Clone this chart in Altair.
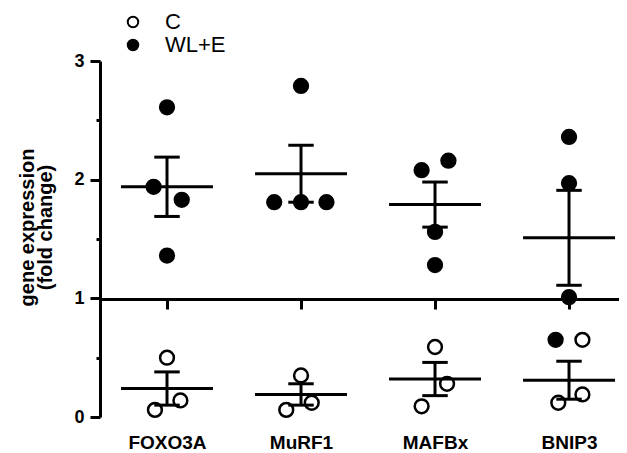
import altair as alt
import pandas as pd

categories = ["FOXO3A", "MuRF1", "MAFBx", "BNIP3"]
groups = ["C", "WL+E"]

# individual points (fold change) and horizontal jitter (category units)
c_values = [[0.50, 0.14, 0.06], [0.35, 0.06, 0.12], [0.59, 0.28, 0.09], [0.65, 0.19, 0.12]]
c_jitter = [[0.0, 0.10, -0.09], [0.0, -0.11, 0.08], [0.0, 0.09, -0.10], [0.10, 0.10, -0.08]]
w_values = [[2.61, 1.94, 1.83, 1.36], [2.79, 1.81, 1.81, 1.81], [2.08, 2.16, 1.56, 1.28], [2.36, 1.97, 1.01, 0.65]]
w_jitter = [[0.0, -0.10, 0.11, 0.0], [0.0, -0.20, 0.0, 0.19], [-0.10, 0.10, 0.0, 0.0], [0.0, 0.0, 0.0, -0.10]]

# mean and SEM per gene
c_mean = [0.24, 0.19, 0.32, 0.31]
c_sem = [0.14, 0.09, 0.14, 0.16]
w_mean = [1.94, 2.05, 1.79, 1.51]
w_sem = [0.25, 0.24, 0.19, 0.40]

y_major = [0, 1, 2, 3]
y_minor = [0.5, 1.5, 2.5]
x_ticks = [1, 2, 3, 4]

HALF = 0.343   # half-width of mean line
CAP = 0.095    # half-width of error caps

rows = []
for gi, gene in enumerate(categories):
    for grp, vals, jit in (("C", c_values, c_jitter), ("WL+E", w_values, w_jitter)):
        for v, j in zip(vals[gi], jit[gi]):
            rows.append({"gene": gene, "group": grp, "value": v, "xpos": gi + 1 + j})
points = pd.DataFrame(rows)

srows = []
for gi, gene in enumerate(categories):
    for grp, m, s in (("C", c_mean, c_sem), ("WL+E", w_mean, w_sem)):
        srows.append({
            "gene": gene, "group": grp, "mean": m[gi],
            "lo": m[gi] - s[gi], "hi": m[gi] + s[gi],
            "xc": gi + 1, "xlo": gi + 1 - HALF, "xhi": gi + 1 + HALF,
            "clo": gi + 1 - CAP, "chi": gi + 1 + CAP,
        })
stats = pd.DataFrame(srows)

FONT = "Liberation Sans"
label_expr = "[" + ",".join("'%s'" % c for c in categories) + "][datum.value - 1]"

xscale = alt.Scale(domain=[0.5, 4.373], nice=False, zero=False)
yscale = alt.Scale(domain=[0, 3], nice=False, zero=False)

xaxis = alt.Axis(
    values=x_ticks, labelExpr=label_expr, title=None, grid=False,
    offset=-118, domainColor="black", domainWidth=3,
    tickColor="black", tickWidth=3, tickSize=10,
    labelPadding=124, labelFont=FONT, labelFontSize=19, labelFontWeight="bold",
    labelColor="black", labelOverlap=False, labelFlush=False,
)
yaxis = alt.Axis(
    values=y_major, orient="left",
    title=["gene expression", "(fold change)"], grid=False,
    domainColor="black", domainWidth=3,
    tickColor="black", tickWidth=3, tickSize=10,
    labelPadding=6, labelFont=FONT, labelFontSize=18, labelFontWeight="bold",
    labelColor="black", format="d",
    titleFont=FONT, titleFontSize=20, titleFontWeight="bold", titleColor="black",
    titleLineHeight=18, titleX=-63, titleY=166,
)
yaxis_minor = alt.Axis(
    values=y_minor, orient="left", title=None, grid=False, domain=False,
    labels=False, tickColor="black", tickWidth=3, tickSize=4,
)


def X(field):
    return alt.X(field, type="quantitative", scale=xscale, axis=xaxis, title=None)


def Y(field):
    return alt.Y(field, type="quantitative", scale=yscale, axis=yaxis)


pts = alt.Chart(points).mark_point(
    shape="circle", filled=False, size=190, stroke="black", strokeWidth=2.5, opacity=1
).encode(
    x=X("xpos"),
    y=Y("value"),
    fill=alt.Fill(
        "group:N",
        scale=alt.Scale(domain=groups, range=["white", "black"]),
        legend=alt.Legend(title=None, orient="none", legendX=22, legendY=-50),
    ),
)

mean_lines = alt.Chart(stats).mark_rule(color="black", strokeWidth=3).encode(
    x=X("xlo"), x2="xhi", y=Y("mean")
)
err = alt.Chart(stats).mark_rule(color="black", strokeWidth=3).encode(
    x=X("xc"), y=Y("lo"), y2="hi"
)
cap_hi = alt.Chart(stats).mark_rule(color="black", strokeWidth=3).encode(
    x=X("clo"), x2="chi", y=Y("hi")
)
cap_lo = alt.Chart(stats).mark_rule(color="black", strokeWidth=3).encode(
    x=X("clo"), x2="chi", y=Y("lo")
)

main = alt.layer(pts, mean_lines, err, cap_hi, cap_lo)

minor = alt.Chart(stats).mark_point(opacity=0).encode(
    x=X("xc"),
    y=alt.Y("mean", type="quantitative", scale=yscale, axis=yaxis_minor),
)

chart = alt.layer(main, minor).resolve_scale(y="independent").resolve_axis(
    y="independent"
).properties(
    width=519, height=356,
    padding={"left": 92, "top": 53, "right": 0, "bottom": 36},
    autosize=alt.AutoSizeParams(type="none"),
    background="white",
).configure_view(stroke=None).configure_legend(
    symbolType="circle", symbolSize=110, symbolStrokeColor="black",
    symbolStrokeWidth=2, symbolOpacity=1,
    labelFont=FONT, labelFontSize=22, labelColor="black",
    labelOffset=21, rowPadding=1, padding=0,
)

chart.save("out.html", embed_options={"renderer": "svg", "actions": False})
